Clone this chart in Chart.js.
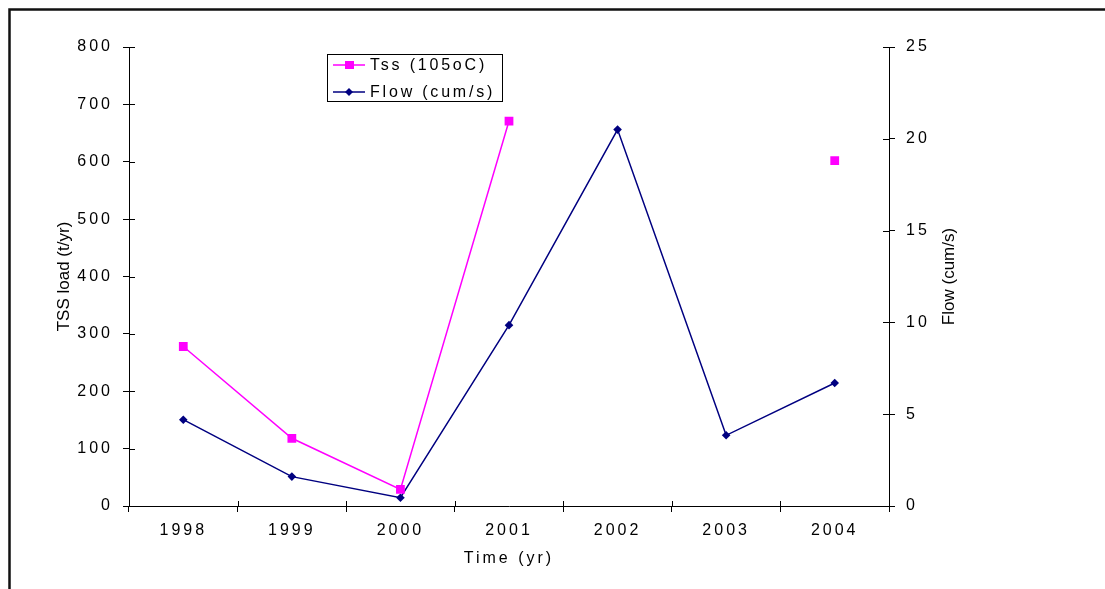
<!DOCTYPE html>
<html>
<head>
<meta charset="utf-8">
<style>
  html, body { margin: 0; padding: 0; background: #fff; }
  #wrap { width: 1105px; height: 589px; position: relative; }
</style>
<script src="https://cdn.jsdelivr.net/npm/chart.js@4.4.1/dist/chart.umd.min.js"></script>
</head>
<body>
<div id="wrap"><canvas id="c" width="1105" height="589"></canvas></div>
<script>
const categories = ['1998', '1999', '2000', '2001', '2002', '2003', '2004'];
const tssValues  = [278, 118, 29, 671, null, null, 602];
const flowValues = [4.7, 1.6, 0.45, 9.85, 20.5, 3.85, 6.7];
const tssLabel  = 'Tss (105oC)';
const flowLabel = 'Flow (cum/s)';
const leftAxisTitle  = 'TSS load (t/yr)';
const rightAxisTitle = 'Flow (cum/s)';
const xAxisTitle = 'Time (yr)';
const leftAxisRange  = { min: 0, max: 800, step: 100 };
const rightAxisRange = { min: 0, max: 25, step: 5 };

const FONT = '"Liberation Sans", Arial, sans-serif';
const TSS_COLOR = '#FF00FF';
const FLOW_COLOR = '#000080';
const SPACING = '3px';

const framePlugin = {
  id: 'frame',
  beforeDraw(chart) {
    const ctx = chart.ctx;
    ctx.save();
    ctx.fillStyle = '#fff';
    ctx.fillRect(0, 0, chart.width, chart.height);
    ctx.strokeStyle = '#111';
    ctx.lineWidth = 2.5;
    ctx.beginPath();
    ctx.moveTo(9.5, chart.height + 5);
    ctx.lineTo(9.5, 9.5);
    ctx.lineTo(chart.width + 5, 9.5);
    ctx.stroke();
    ctx.restore();
    ctx.letterSpacing = SPACING;
  },
  afterDraw(chart) {
    const ctx = chart.ctx;
    const ca = chart.chartArea;
    ctx.save();
    // inner halves of the cross tick marks
    ctx.strokeStyle = '#000';
    ctx.lineWidth = 1;
    ctx.beginPath();
    const y = chart.scales.y, y2 = chart.scales.y2, x = chart.scales.x;
    y.ticks.forEach((t, i) => {
      const p = Math.round(y.getPixelForTick(i)) + 0.5;
      ctx.moveTo(ca.left, p); ctx.lineTo(ca.left + 6, p);
    });
    y2.ticks.forEach((t, i) => {
      const p = Math.round(y2.getPixelForTick(i)) + 0.5;
      ctx.moveTo(ca.right - 6, p); ctx.lineTo(ca.right, p);
    });
    const w = x.getPixelForValue(1) - x.getPixelForValue(0);
    for (let i = 0; i <= categories.length; i++) {
      const p = Math.round(x.getPixelForValue(0) - w / 2 + i * w) + 0.5;
      ctx.moveTo(p, ca.bottom - 5); ctx.lineTo(p, ca.bottom);
    }
    ctx.stroke();

    // vertical axis titles (both read bottom-to-top)
    ctx.letterSpacing = '0px';
    ctx.fillStyle = '#000';
    ctx.font = '17px ' + FONT;
    ctx.textAlign = 'center';
    ctx.textBaseline = 'middle';
    const cy = (ca.top + ca.bottom) / 2;
    [[64, leftAxisTitle], [949, rightAxisTitle]].forEach(([tx, txt]) => {
      ctx.save();
      ctx.translate(tx, cy);
      ctx.rotate(-Math.PI / 2);
      ctx.fillText(txt, 0, 0);
      ctx.restore();
    });

    // legend
    const bx = 327.5, by = 54.5, bw = 175, bh = 47;
    ctx.fillStyle = '#fff';
    ctx.fillRect(bx, by, bw, bh);
    ctx.strokeStyle = '#000';
    ctx.lineWidth = 1;
    ctx.strokeRect(bx, by, bw, bh);
    ctx.font = '16px ' + FONT;
    const rows = [
      { y: 65, color: TSS_COLOR, label: chart.data.datasets[0].label, marker: 'rect' },
      { y: 92, color: FLOW_COLOR, label: chart.data.datasets[1].label, marker: 'diamond' }
    ];
    rows.forEach(r => {
      ctx.strokeStyle = r.color;
      ctx.lineWidth = 1.5;
      ctx.beginPath();
      ctx.moveTo(333, r.y); ctx.lineTo(365, r.y);
      ctx.stroke();
      ctx.fillStyle = r.color;
      if (r.marker === 'rect') {
        ctx.fillRect(345, r.y - 4, 9, 8);
      } else {
        ctx.beginPath();
        ctx.moveTo(349, r.y - 4); ctx.lineTo(353, r.y); ctx.lineTo(349, r.y + 4); ctx.lineTo(345, r.y);
        ctx.closePath(); ctx.fill();
      }
      ctx.fillStyle = '#000';
      ctx.letterSpacing = '2.8px';
      ctx.textAlign = 'left';
      ctx.textBaseline = 'middle';
      ctx.fillText(r.label, 370, r.y + 1);
    });
    ctx.restore();
    ctx.letterSpacing = '0px';
  }
};

new Chart(document.getElementById('c'), {
  type: 'line',
  data: {
    labels: categories,
    datasets: [
      {
        label: tssLabel,
        data: tssValues,
        yAxisID: 'y',
        borderColor: TSS_COLOR,
        backgroundColor: TSS_COLOR,
        borderWidth: 1.5,
        pointStyle: 'rect',
        pointRadius: 6.2,
        pointHoverRadius: 6.2,
        pointBorderWidth: 0,
        spanGaps: false,
        tension: 0
      },
      {
        label: flowLabel,
        data: flowValues,
        yAxisID: 'y2',
        borderColor: FLOW_COLOR,
        backgroundColor: FLOW_COLOR,
        borderWidth: 1.5,
        pointStyle: 'rectRot',
        pointRadius: 4.3,
        pointHoverRadius: 4.3,
        pointBorderWidth: 0,
        tension: 0
      }
    ]
  },
  options: {
    responsive: false,
    animation: false,
    events: [],
    layout: { padding: { left: 0, right: 0, top: 47, bottom: 0 } },
    plugins: { legend: { display: false }, tooltip: { enabled: false } },
    scales: {
      x: {
        type: 'category',
        offset: true,
        grid: { offset: true, drawOnChartArea: false, drawTicks: true, tickLength: 6, color: '#000', lineWidth: 1 },
        border: { display: true, color: '#000', width: 1 },
        ticks: { color: '#000', font: { family: FONT, size: 16 }, padding: 9, maxRotation: 0, autoSkip: false },
        title: { display: true, text: xAxisTitle, color: '#000', font: { family: FONT, size: 16 }, padding: { top: 4, bottom: 21 } },
        afterFit(s) { s.height = 83; }
      },
      y: {
        position: 'left',
        min: leftAxisRange.min, max: leftAxisRange.max,
        grid: { drawOnChartArea: false, drawTicks: true, tickLength: 6, color: '#000', lineWidth: 1 },
        border: { display: true, color: '#000', width: 1 },
        ticks: { stepSize: leftAxisRange.step, color: '#000', font: { family: FONT, size: 16 }, padding: 10 },
        title: { display: false },
        afterFit(s) { s.width = 129; }
      },
      y2: {
        position: 'right',
        min: rightAxisRange.min, max: rightAxisRange.max,
        grid: { drawOnChartArea: false, drawTicks: true, tickLength: 6, color: '#000', lineWidth: 1 },
        border: { display: true, color: '#000', width: 1 },
        ticks: { stepSize: rightAxisRange.step, color: '#000', font: { family: FONT, size: 16 }, padding: 11 },
        title: { display: false },
        afterFit(s) { s.width = 216; }
      }
    }
  },
  plugins: [framePlugin]
});
</script>
</body>
</html>
